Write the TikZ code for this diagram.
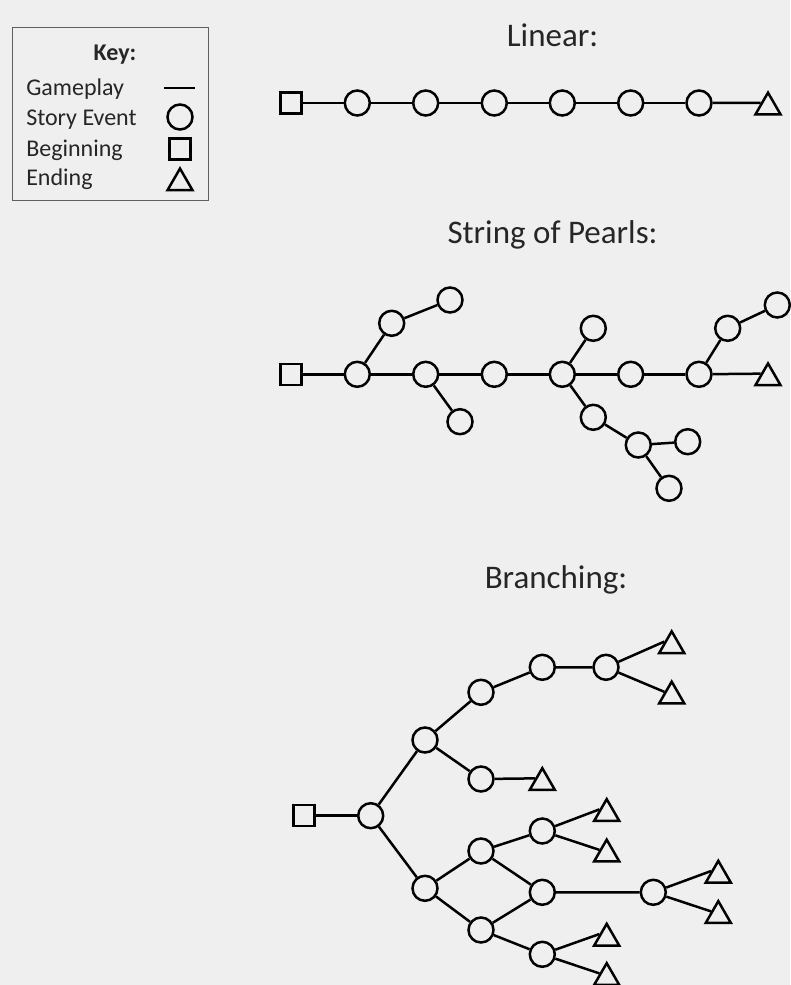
\documentclass[tikz,border=0pt]{standalone}
\usepackage{fontspec}
\setmainfont{Carlito}
\usetikzlibrary{shapes.geometric}
\definecolor{bg}{RGB}{239,239,239}
\definecolor{keyframe}{RGB}{95,95,95}
\begin{document}
\begin{tikzpicture}[x=1pt,y=-1pt,
  line width=2.5pt,
  ev/.style={circle,draw,fill=bg,inner sep=0pt,minimum size=25pt},
  beg/.style={rectangle,draw,fill=bg,inner sep=0pt,minimum size=21pt},
  fin/.style={regular polygon,regular polygon sides=3,draw,fill=bg,inner sep=0pt,minimum size=28.9pt},
  ttl/.style={font=\fontsize{33}{36}\selectfont,anchor=base,inner sep=0pt,text=black!85},
  keytxt/.style={font=\fontsize{24}{26}\selectfont,anchor=base west,inner sep=0pt,text=black!85}]
\fill[bg] (0,0) rectangle (790,985);
\useasboundingbox (0,0) rectangle (790,985);

% ---------- Key ----------
\node[draw=keyframe,line width=1.3pt,minimum width=196pt,minimum height=173pt,inner sep=0pt,anchor=north west] (keybox) at (12,27) {};
\node[keytxt,anchor=base,font=\fontsize{24}{26}\selectfont\bfseries] (keyttl) at (115,60) {Key:};
\node[keytxt] (kt1) at (25,95) {Gameplay};
\node[keytxt] (kt2) at (25,125) {Story Event};
\node[keytxt] (kt3) at (25,156) {Beginning};
\node[keytxt] (kt4) at (25,185) {Ending};
\coordinate (kg1) at (164,88);
\coordinate (kg2) at (195,88);
\draw (kg1) -- (kg2);
\node[ev] (kev) at (180,117) {};
\node[beg] (kbeg) at (180,149) {};
\node[fin] (kfin) at (180,183) {};

% ---------- Linear ----------
\node[ttl] (tlin) at (552.5,46) {Linear:};
\node[beg] (l0) at (291,103) {};
\foreach \i/\x in {1/357.3,2/425.7,3/494.3,4/562.3,5/630.7,6/699}
  \node[ev] (l\i) at (\x,103) {};
\node[fin] (l7) at (768,107.1) {};
\draw (l0) -- (l1) -- (l2) -- (l3) -- (l4) -- (l5) -- (l6);
\draw (l6) -- (l7.side 1);

% ---------- String of Pearls ----------
\node[ttl] (tpearl) at (552.5,243) {String of Pearls:};
\node[beg] (p0) at (291,374.3) {};
\foreach \i/\x in {1/357.3,2/425.7,3/494.3,4/562.3,5/630.7,6/699}
  \node[ev] (p\i) at (\x,374.3) {};
\node[fin] (p7) at (768,377.9) {};
\draw (p0) -- (p1) -- (p2) -- (p3) -- (p4) -- (p5) -- (p6);
\draw (p6) -- (p7.side 1);
\node[ev] (pa1) at (391.7,323.3) {};
\node[ev] (pa2) at (450,300) {};
\node[ev] (pb1) at (460,421.7) {};
\node[ev] (pc1) at (593.3,328.3) {};
\node[ev] (pd1) at (593.3,417.3) {};
\node[ev] (pd2) at (638.3,445) {};
\node[ev] (pd3) at (687.7,441.7) {};
\node[ev] (pd4) at (669,488.3) {};
\node[ev] (pe1) at (727.7,328.3) {};
\node[ev] (pe2) at (777.3,305) {};
\draw (p1) -- (pa1) -- (pa2);
\draw (p2) -- (pb1);
\draw (p4) -- (pc1);
\draw (p4) -- (pd1) -- (pd2) -- (pd3);
\draw (pd2) -- (pd4);
\draw (p6) -- (pe1) -- (pe2);

% ---------- Branching ----------
\node[ttl] (tbr) at (556,588) {Branching:};
\node[beg] (bS) at (304,815.7) {};
\node[ev] (bA) at (370.7,815.7) {};
\node[ev] (bB) at (425,740) {};
\node[ev] (bC) at (481,692.3) {};
\node[ev] (bD) at (542.3,667.3) {};
\node[ev] (bE) at (606,667.3) {};
\node[ev] (bF) at (481,779) {};
\node[ev] (bG) at (425,888.3) {};
\node[ev] (bH) at (481,851) {};
\node[ev] (bI) at (542.3,831) {};
\node[ev] (bJ) at (542.3,892.3) {};
\node[ev] (bK) at (653.3,892.3) {};
\node[ev] (bL) at (481,930) {};
\node[ev] (bM) at (542.3,954.3) {};
\node[fin] (bT1) at (671.7,645.8) {};
\node[fin] (bT2) at (671.7,696.1) {};
\node[fin] (bT3) at (542.3,782.6) {};
\node[fin] (bT4) at (606.7,813.6) {};
\node[fin] (bT5) at (606.7,854.1) {};
\node[fin] (bT6) at (718.3,875.3) {};
\node[fin] (bT7) at (718.3,915.6) {};
\node[fin] (bT8) at (606.7,938.3) {};
\node[fin] (bT9) at (606.7,977.6) {};
\draw (bS) -- (bA);
\draw (bA) -- (bB) -- (bC) -- (bD) -- (bE);
\draw (bE) -- (bT1.side 1);
\draw (bE) -- (bT2.side 1);
\draw (bB) -- (bF);
\draw (bF) -- (bT3.side 1);
\draw (bA) -- (bG) -- (bH) -- (bI);
\draw (bI) -- (bT4.side 1);
\draw (bI) -- (bT5.side 1);
\draw (bH) -- (bJ) -- (bK);
\draw (bG) -- (bL) -- (bJ);
\draw (bK) -- (bT6.side 1);
\draw (bK) -- (bT7.side 1);
\draw (bL) -- (bM);
\draw (bM) -- (bT8.side 1);
\draw (bM) -- (bT9.side 1);
\end{tikzpicture}
\end{document}
